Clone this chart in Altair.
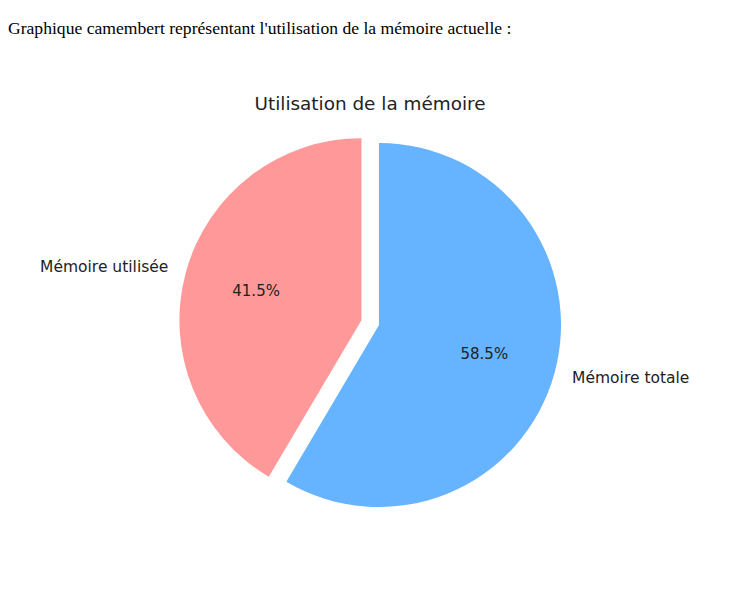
import math
import altair as alt
import pandas as pd

heading = ["Graphique camembert représentant l'utilisation de la mémoire actuelle :"]
chart_title = ["Utilisation de la mémoire"]
labels = ["Mémoire totale", "Mémoire utilisée"]
values = [58.5, 41.5]
colors = ["#66b3ff", "#ff9999"]
explode = [0.0, 0.1]
order = [0, 1]

total = sum(values)
df = pd.DataFrame({"label": labels, "value": values, "order": order})

W, H = 720, 584
CX, CY = 371, 317
R = 182
SANS = "DejaVu Sans"

base = alt.Chart(df).transform_stack(
    stack="value", groupby=[], as_=["v0", "v1"], sort=[alt.SortField("order")]
).transform_calculate(
    mid="(datum.v0 + datum.v1) / 2",
    pctxt="format(datum.value, '.1f') + '%'",
)

theta_scale = alt.Scale(domain=[0, total], range=[0, 2 * math.pi])

layers = []
cum = 0.0
for lab, val, col, ex in zip(labels, values, colors, explode):
    mid_frac = (cum + val / 2) / total
    cum += val
    ang = 2 * math.pi * mid_frac  # clockwise from 12 o'clock
    dx = ex * R * math.sin(ang)
    dy = -ex * R * math.cos(ang)
    f = base.transform_filter(alt.datum.label == lab)
    cx = alt.value(CX + dx)
    cy = alt.value(CY + dy)
    arc = f.mark_arc(radius=R, color=col).encode(
        theta=alt.Theta("v0:Q", scale=theta_scale),
        theta2="v1:Q",
        x=cx, y=cy,
    )
    pct = f.mark_text(radius=R * 0.6, font=SANS, fontSize=15,
                      color="#222222", baseline="middle", align="center").encode(
        theta=alt.Theta("mid:Q", scale=theta_scale),
        text="pctxt:N",
        x=cx, y=cy,
    )
    side = "left" if math.sin(ang) > 0 else "right"
    lbl = f.mark_text(radius=R * 1.1, font=SANS, fontSize=15.5,
                      color="#222222", baseline="middle", align=side).encode(
        theta=alt.Theta("mid:Q", scale=theta_scale),
        text="label:N",
        x=cx, y=cy,
    )
    layers += [arc, pct, lbl]

tdf = pd.DataFrame({"t": chart_title})
title_mark = alt.Chart(tdf).mark_text(
    font=SANS, fontSize=18.4, color="#222222", align="center", baseline="middle"
).encode(text="t:N", x=alt.value(362), y=alt.value(96))

hdf = pd.DataFrame({"h": heading})
head_mark = alt.Chart(hdf).mark_text(
    font="Liberation Serif", fontSize=17.6, color="black", align="left", baseline="middle"
).encode(text="h:N", x=alt.value(0), y=alt.value(21))

chart = alt.layer(*layers, title_mark, head_mark).properties(
    width=W, height=H,
    autosize=alt.AutoSizeParams(type="none"),
    padding=0,
).configure_view(stroke=None)

chart.save("out.html", embed_options={"renderer": "svg", "actions": False})
